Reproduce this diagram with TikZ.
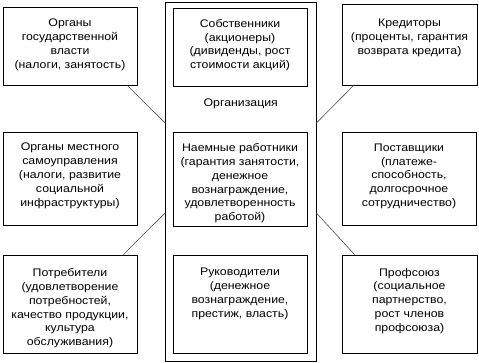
\documentclass[tikz,border=0pt]{standalone}
\usepackage{fontspec}
\setmainfont[FakeStretch=1.12]{Liberation Sans}
\usetikzlibrary{calc}
\tikzset{
  box/.style={draw=black, line width=0.8pt, rectangle, inner sep=0pt},
  txt/.style={align=center, inner sep=0pt, anchor=north, font=\fontsize{11}{13.8}\selectfont},
  conn/.style={draw=black!70, line width=0.6pt}
}
\begin{document}
\begin{tikzpicture}[x=1pt,y=-1pt]
\useasboundingbox (0,0) rectangle (479,363);
% outer organisation box
\node[box, minimum width=150.5pt, minimum height=359pt] (org) at (240.75,181.5) {};
\node[txt] (orgt) at (240.75,99) {Организация};
% inner boxes
\node[box, minimum width=134pt, minimum height=78pt] (sob) at (240,47) {};
\node[txt] (sobt) at (240,19) {Собственники\\(акционеры)\\(дивиденды, рост\\стоимости акций)};
\node[box, minimum width=134pt, minimum height=94pt] (naem) at (240,179) {};
\node[txt] (naemt) at (240,143.5) {Наемные работники\\(гарантия занятости,\\денежное\\вознаграждение,\\удовлетворенность\\работой)};
\node[box, minimum width=134pt, minimum height=98pt] (ruk) at (240,304) {};
\node[txt] (rukt) at (240,268) {Руководители\\(денежное\\вознаграждение,\\престиж, власть)};
% left boxes
\node[box, minimum width=134pt, minimum height=78pt] (gov) at (70,46) {};
\node[txt] (govt) at (70,19) {Органы\\государственной\\власти\\(налоги, занятость)};
\node[box, minimum width=134pt, minimum height=93pt] (loc) at (70,178.5) {};
\node[txt] (loct) at (70,143) {Органы местного\\самоуправления\\(налоги, развитие\\социальной\\инфраструктуры)};
\node[box, minimum width=134pt, minimum height=98pt] (potr) at (70,304) {};
\node[txt] (potrt) at (70,268.5) {Потребители\\(удовлетворение\\потребностей,\\качество продукции,\\культура\\обслуживания)};
% right boxes
\node[box, minimum width=135pt, minimum height=81pt] (kred) at (409.5,44.5) {};
\node[txt] (kredt) at (409.5,19) {Кредиторы\\(проценты, гарантия\\возврата кредита)};
\node[box, minimum width=134pt, minimum height=93pt] (post) at (409,178.5) {};
\node[txt] (postt) at (409,143.5) {Поставщики\\(платеже-\\способность,\\долгосрочное\\сотрудничество)};
\node[box, minimum width=135pt, minimum height=98pt] (prof) at (409.5,304) {};
\node[txt] (proft) at (409.5,268) {Профсоюз\\(социальное\\партнерство,\\рост членов\\профсоюза)};
% connection points on the organisation box
\coordinate (oTL) at (org.west |- 0,123);
\coordinate (oBL) at (org.west |- 0,213);
\coordinate (oTR) at (org.east |- 0,123);
\coordinate (oBR) at (org.east |- 0,213);
% connectors
\draw[conn] ([xshift=-10pt]gov.south east) -- (oTL);
\draw[conn] ([xshift=-14pt]potr.north east) -- (oBL);
\draw[conn] ([xshift=12pt]kred.south west) -- (oTR);
\draw[conn] ([xshift=13pt]prof.north west) -- (oBR);
\end{tikzpicture}
\end{document}
